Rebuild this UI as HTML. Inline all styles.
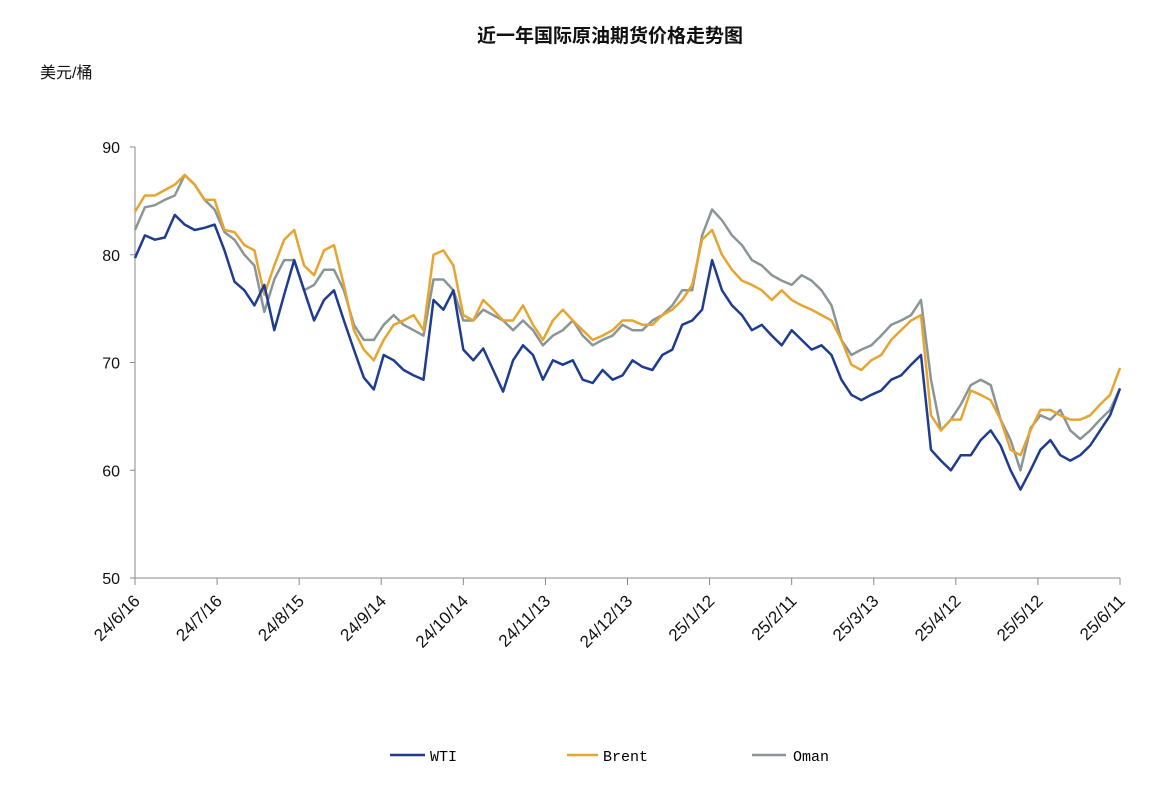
<!DOCTYPE html>
<html><head><meta charset="utf-8"><style>
body{margin:0;background:#fff;width:1173px;height:797px;overflow:hidden}
svg text{font-family:"Liberation Sans","Noto Sans CJK SC",sans-serif}
</style></head><body>
<svg id="chart" width="1173" height="797" xmlns="http://www.w3.org/2000/svg">
<text x="610" y="42" text-anchor="middle" font-size="19" font-weight="bold" fill="#111">近一年国际原油期货价格走势图</text>
<text x="40" y="78" font-size="16" fill="#111">美元/桶</text>
<g id="axes"></g><g id="series"></g>
<g>
<line x1="390" y1="755" x2="425" y2="755" stroke="#1f3d8f" stroke-width="2.5"/>
<text x="430" y="761" font-size="15" style="font-family:'Liberation Mono',monospace">WTI</text>
<line x1="567" y1="755" x2="598" y2="755" stroke="#e6a530" stroke-width="2.5"/>
<text x="603" y="761" font-size="15" style="font-family:'Liberation Mono',monospace">Brent</text>
<line x1="752" y1="755" x2="786" y2="755" stroke="#8a9598" stroke-width="2.5"/>
<text x="793" y="761" font-size="15" style="font-family:'Liberation Mono',monospace">Oman</text>
</g>
</svg>
<script>
const xLabels=["24/6/16","24/7/16","24/8/15","24/9/14","24/10/14","24/11/13","24/12/13","25/1/12","25/2/11","25/3/13","25/4/12","25/5/12","25/6/11"];
const yTicks=[50,60,70,80,90];
const wti=[79.7,81.8,81.4,81.6,83.7,82.8,82.3,82.5,82.8,80.4,77.5,76.7,75.3,77.2,73.0,76.3,79.5,76.7,73.9,75.8,76.7,73.9,71.2,68.6,67.5,70.7,70.2,69.3,68.8,68.4,75.8,74.9,76.7,71.2,70.2,71.3,69.3,67.3,70.2,71.6,70.7,68.4,70.2,69.8,70.2,68.4,68.1,69.3,68.4,68.8,70.2,69.6,69.3,70.7,71.2,73.5,73.9,74.9,79.5,76.7,75.3,74.4,73.0,73.5,72.5,71.6,73.0,72.1,71.2,71.6,70.7,68.4,67.0,66.5,67.0,67.4,68.4,68.8,69.8,70.7,61.9,60.9,60.0,61.4,61.4,62.8,63.7,62.3,60.0,58.2,60.0,61.9,62.8,61.4,60.9,61.4,62.3,63.7,65.1,67.6];
const brent=[84.0,85.5,85.5,86.0,86.5,87.4,86.5,85.1,85.1,82.3,82.1,80.9,80.4,76.3,79.0,81.4,82.3,79.0,78.1,80.4,80.9,77.2,73.0,71.2,70.2,72.1,73.5,73.9,74.4,73.0,80.0,80.4,79.0,74.4,73.9,75.8,74.9,73.9,73.9,75.3,73.5,72.1,73.9,74.9,73.9,73.0,72.1,72.5,73.0,73.9,73.9,73.5,73.5,74.4,74.9,75.8,77.2,81.4,82.3,80.0,78.6,77.6,77.2,76.7,75.8,76.7,75.8,75.3,74.9,74.4,73.9,72.1,69.8,69.3,70.2,70.7,72.1,73.0,73.9,74.4,65.1,63.7,64.7,64.7,67.4,67.0,66.5,64.7,61.9,61.4,63.7,65.6,65.6,65.1,64.7,64.7,65.1,66.1,67.0,69.5];
const oman=[82.3,84.4,84.6,85.1,85.5,87.4,86.5,85.1,84.2,82.1,81.4,80.0,79.0,74.7,77.7,79.5,79.5,76.7,77.2,78.6,78.6,76.7,73.5,72.1,72.1,73.5,74.4,73.5,73.0,72.5,77.7,77.7,76.7,73.9,73.9,74.9,74.4,73.9,73.0,73.9,73.0,71.6,72.5,73.0,73.9,72.5,71.6,72.1,72.5,73.5,73.0,73.0,73.9,74.4,75.3,76.7,76.7,81.8,84.2,83.2,81.8,80.9,79.5,79.0,78.1,77.6,77.2,78.1,77.6,76.7,75.3,72.1,70.7,71.2,71.6,72.5,73.5,73.9,74.4,75.8,68.4,63.7,64.7,66.1,67.9,68.4,67.9,64.7,62.8,60.0,63.9,65.1,64.7,65.6,63.7,62.9,63.7,64.7,65.6,67.6];
const NS="http://www.w3.org/2000/svg";
const X0=135,X1=1120,Y0=578,Y1=147,VMIN=50,VMAX=90;
function yScale(v){return Y0-(v-VMIN)/(VMAX-VMIN)*(Y0-Y1);}
function xScale(i,n){return X0+i*(X1-X0)/(n-1);}
function mk(tag,attrs,parent){const e=document.createElementNS(NS,tag);for(const k in attrs)e.setAttribute(k,attrs[k]);parent.appendChild(e);return e;}
const axes=document.getElementById('axes');
const ya=mk('line',{x1:X0,y1:Y1,x2:X0,y2:Y0,stroke:'#888','stroke-width':1},axes);


const xa=mk('line',{x1:X0,y1:Y0,x2:X1,y2:Y0,stroke:'#888','stroke-width':1},axes);


yTicks.forEach(v=>{const y=yScale(v);
mk('line',{x1:X0-5,y1:y,x2:X0,y2:y,stroke:'#888'},axes);
const t=mk('text',{x:120,y:y+6,'text-anchor':'end','font-size':16,fill:'#111'},axes);t.textContent=v;

});
xLabels.forEach((l,i)=>{const x=xScale(i,xLabels.length);
mk('line',{x1:x,y1:Y0,x2:x,y2:Y0+7,stroke:'#888'},axes);
const t=mk('text',{x:x+6,y:Y0+24,'text-anchor':'end','font-size':17,fill:'#111',transform:`rotate(-45 ${x+6} ${Y0+24})`},axes);t.textContent=l;

});
const sg=document.getElementById('series');
[[oman,'#8a9598','oman-line'],[brent,'#e6a530','brent-line'],[wti,'#1f3d8f','wti-line']].forEach(([d,c,n])=>{
const pts=d.map((v,i)=>xScale(i,d.length).toFixed(1)+','+yScale(v).toFixed(1)).join(' ');
const p=mk('polyline',{points:pts,fill:'none',stroke:c,'stroke-width':2.5,'stroke-linejoin':'round'},sg);

});
</script>
</body></html>
